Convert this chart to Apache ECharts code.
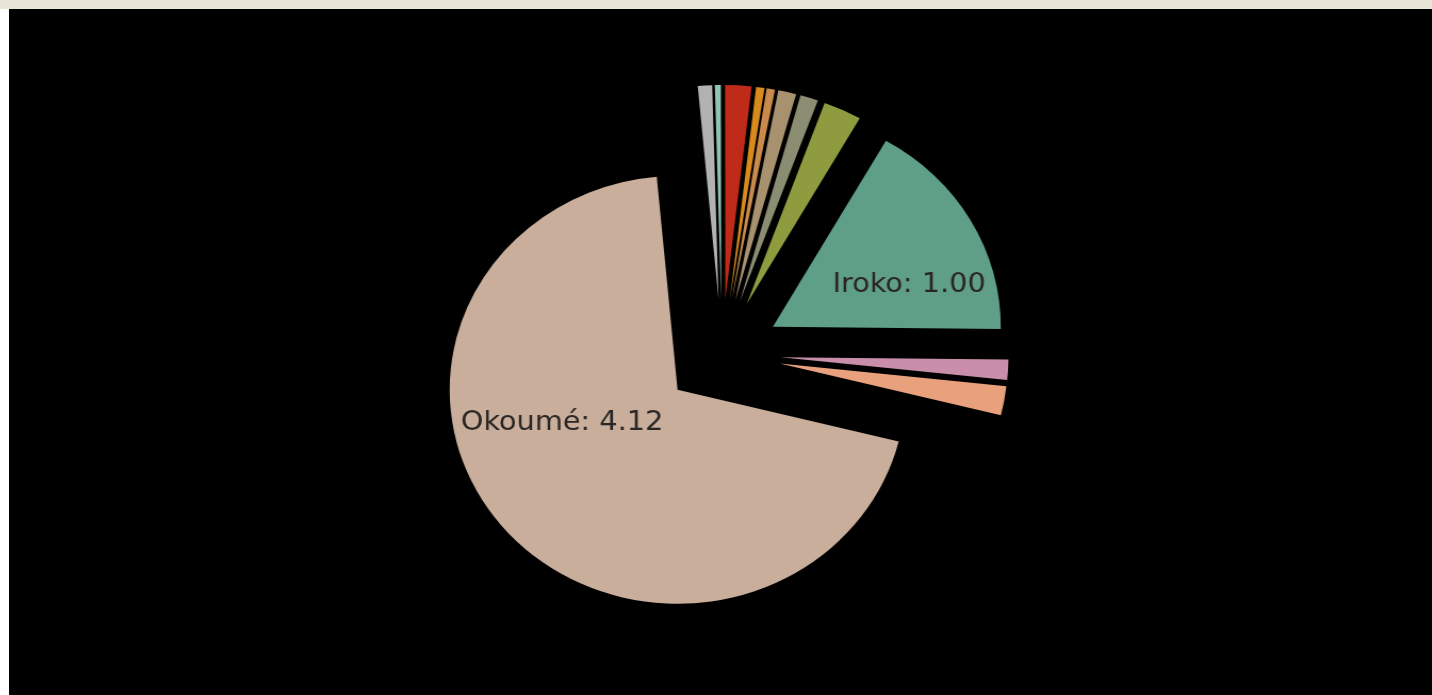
<!DOCTYPE html>
<html>
<head>
<meta charset="utf-8">
<script src="https://cdn.jsdelivr.net/npm/echarts@6/dist/echarts.min.js"></script>
<style>
  html, body { margin:0; padding:0; width:1432px; height:695px; background:#ffffff; overflow:hidden; }
  #band { position:absolute; left:0; top:0; width:1432px; height:9px; background:#e9e5d8; }
  #frame { position:absolute; left:9px; top:9px; width:1423px; height:686px; background:#000000; overflow:hidden; }
  #chart { position:absolute; left:0; top:0; width:1336px; height:686px; transform:scaleX(1.065); transform-origin:0 0; }
</style>
</head>
<body>
<div id="band"></div>
<div id="frame"><div id="chart"></div></div>
<script>
// Data (clockwise order from the Okoumé start edge)
const categories = ['Okoumé', 'Espèce A', 'Espèce B', 'Espèce C', 'Espèce D', 'Espèce E', 'Espèce F', 'Espèce G', 'Espèce H', 'Iroko', 'Espèce I', 'Espèce J'];
const values = [4.12, 0.06, 0.025, 0.11, 0.035, 0.035, 0.075, 0.075, 0.16, 1.00, 0.09, 0.13];
const colors = ['#c9ae9b', '#b2b2b4', '#8fc6b2', '#c02a18', '#d88a1c', '#c98a4c', '#a8916f', '#8a8d72', '#8e9b3e', '#5f9e87', '#c98eaa', '#e9a07c'];
const labelled = ['Okoumé', 'Iroko'];
const labelStyles = {
  'Okoumé': { padding: [0, 50, 0, 0], lineHeight: 76, after: true },
  'Iroko': { padding: [0, 0, 0, 65], lineHeight: 26, after: false }
};

const chart = echarts.init(document.getElementById('chart'));
chart.setOption({
  animation: false,
  backgroundColor: '#000000',
  series: [{
    type: 'pie',
    center: [669.5, 345],
    radius: [0, 214],
    startAngle: -14,
    clockwise: true,
    selectedMode: 'multiple',
    selectedOffset: 55,
    avoidLabelOverlap: false,
    emphasis: { disabled: true },
    labelLine: { show: false },
    label: {
      show: false,
      position: 'inside',
      formatter: p => {
        const t = p.name + ': ' + p.value.toFixed(2);
        const s = labelStyles[p.name];
        return s && s.after ? t + '\n\u00a0' : '\u00a0\n' + t;
      },
      fontFamily: 'DejaVu Sans',
      fontSize: 27,
      color: '#2a2624'
    },
    data: categories.map((c, i) => ({
      name: c,
      value: values[i],
      selected: true,
      itemStyle: { color: colors[i] },
      label: labelled.indexOf(c) >= 0
        ? { show: true, padding: labelStyles[c].padding, lineHeight: labelStyles[c].lineHeight }
        : { show: false }
    }))
  }]
});
</script>
</body>
</html>
